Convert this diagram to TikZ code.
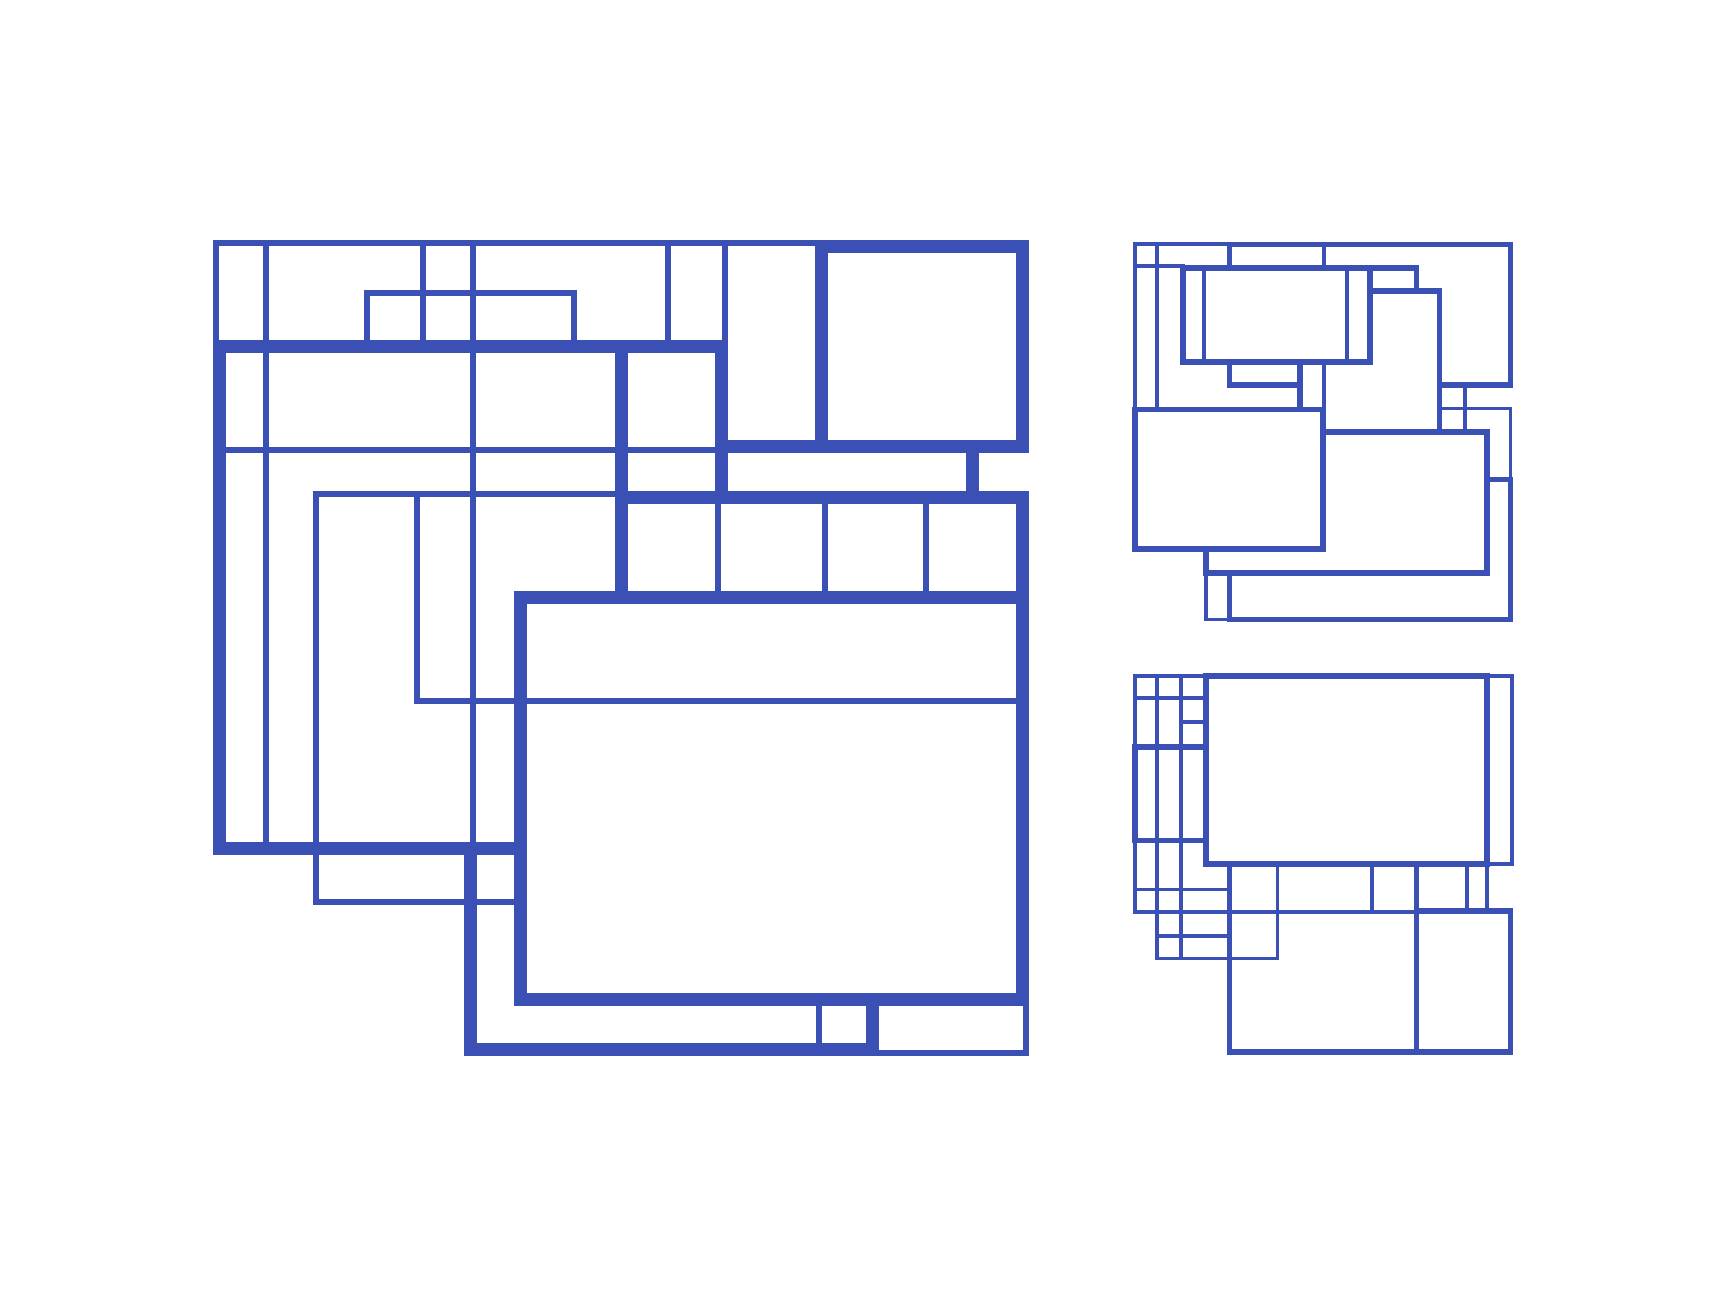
\documentclass[tikz,border=0pt]{standalone}
\usepackage{tikz}

\definecolor{wblue}{RGB}{58,80,180}

\begin{document}
\begin{tikzpicture}[x=1pt,y=-1pt]
\tikzstyle{heavy}=[draw=wblue, line width=13pt, line cap=rect]
\tikzstyle{light}=[draw=wblue, line width=6pt, line cap=rect]
\tikzstyle{heavysm}=[draw=wblue, line width=5.6pt, line cap=rect]
\tikzstyle{lightsm}=[draw=wblue, line width=3.6pt, line cap=rect]

\useasboundingbox (0,0) rectangle (1728,1296);

% big panel, light lines
	\draw[light] (216,243) -- (821.5,243);
	\draw[light] (216,243) -- (216,346.5);
	\draw[light] (266,243) -- (266,848.5);
	\draw[light] (423,243) -- (423,346.5);
	\draw[light] (473,243) -- (473,848.5);
	\draw[light] (668,243) -- (668,346.5);
	\draw[light] (725,243) -- (725,346.5);
	\draw[light] (367,346.5) -- (367,293) -- (574,293) -- (574,346.5);
	\draw[light] (219.5,450) -- (721.5,450);
	\draw[light] (316,902) -- (316,494) -- (621.5,494);
	\draw[light] (316,902) -- (520.5,902);
	\draw[light] (417,494) -- (417,701) -- (1022.5,701);
	\draw[light] (718,497.5) -- (718,597.5);
	\draw[light] (825,497.5) -- (825,597.5);
	\draw[light] (926,497.5) -- (926,597.5);
	\draw[light] (819,999.5) -- (819,1049.5);
	\draw[light] (872.5,1053) -- (1026,1053) -- (1026,999.5);

% big panel, heavy lines
	\draw[heavy] (821.5,246.5) rectangle (1022.5,446.5);
	\draw[heavy] (721.5,446.5) -- (1022.5,446.5);
	\draw[heavy] (219.5,346.5) -- (721.5,346.5);
	\draw[heavy] (219.5,346.5) -- (219.5,848.5) -- (520.5,848.5);
	\draw[heavy] (721.5,346.5) -- (721.5,497.5);
	\draw[heavy] (621.5,346.5) -- (621.5,597.5);
	\draw[heavy] (621.5,497.5) -- (1022.5,497.5);
	\draw[heavy] (972.5,446.5) -- (972.5,497.5);
	\draw[heavy] (520.5,597.5) rectangle (1022.5,999.5);
	\draw[heavy] (1022.5,497.5) -- (1022.5,597.5);
	\draw[heavy] (470.5,848.5) -- (470.5,1049.5) -- (872.5,1049.5) -- (872.5,999.5);

% upper small panel
	\draw[lightsm] (1135,409.5) -- (1135,244) -- (1229.5,244);
	\draw[lightsm] (1157,244) -- (1157,409.5);
	\draw[lightsm] (1135,266) -- (1183,266);
	\draw[lightsm] (1324,244.5) -- (1324,268);
	\draw[lightsm] (1204,268) -- (1204,362);
	\draw[lightsm] (1347,268) -- (1347,362);
	\draw[lightsm] (1324,362) -- (1324,409.5);
	\draw[lightsm] (1439.5,408.5) -- (1510.5,408.5) -- (1510.5,479.5);
	\draw[lightsm] (1465,385) -- (1465,432);
	\draw[lightsm] (1206,573) -- (1206,619.5) -- (1229.5,619.5);

	\draw[heavysm] (1183,268) rectangle (1370,362);
	\draw[heavysm] (1370,268) -- (1416.5,268) -- (1416.5,291);
	\draw[heavysm] (1370,291) -- (1439.5,291) -- (1439.5,432);
	\draw[heavysm] (1229.5,268) -- (1229.5,244.5) -- (1510.5,244.5) -- (1510.5,385) -- (1439.5,385);
	\draw[heavysm] (1229.5,362) -- (1229.5,385) -- (1300,385);
	\draw[heavysm] (1300,362) -- (1300,409.5);
	\draw[heavysm] (1135,409.5) rectangle (1323,549);
	\draw[heavysm] (1323,432) -- (1487,432) -- (1487,573) -- (1206,573) -- (1206,549);
	\draw[heavysm] (1229.5,573) -- (1229.5,619.5) -- (1510.5,619.5) -- (1510.5,479.5) -- (1487,479.5);

% lower small panel
	\draw[lightsm] (1135,676) -- (1206,676);
	\draw[lightsm] (1135,676) -- (1135,911.7);
	\draw[lightsm] (1157,676) -- (1157,958.3);
	\draw[lightsm] (1180.7,676) -- (1180.7,958.3);
	\draw[lightsm] (1135,698) -- (1206,698);
	\draw[lightsm] (1180.7,721.7) -- (1206,721.7);
	\draw[lightsm] (1135,889.3) -- (1229.5,889.3);
	\draw[lightsm] (1135,911.7) -- (1229.5,911.7);
	\draw[lightsm] (1157,936) -- (1229.5,936);
	\draw[lightsm] (1157,958.3) -- (1277.3,958.3);
	\draw[lightsm] (1277.3,864) -- (1277.3,958.3);
	\draw[lightsm] (1229.5,911.7) -- (1416.5,911.7);
	\draw[lightsm] (1371.7,864) -- (1371.7,911.7);
	\draw[lightsm] (1466.7,864) -- (1466.7,911);
	\draw[lightsm] (1487,864) -- (1487,911);
	\draw[lightsm] (1487,676) -- (1511.7,676) -- (1511.7,864) -- (1487,864);

	\draw[heavysm] (1135,747) rectangle (1206,840.5);
	\draw[heavysm] (1206,676) rectangle (1487,864);
	\draw[heavysm] (1229.5,864) -- (1229.5,1051.7) -- (1510.5,1051.7) -- (1510.5,911) -- (1416.5,911);
	\draw[heavysm] (1416.5,864) -- (1416.5,1051.7);

\end{tikzpicture}
\end{document}
